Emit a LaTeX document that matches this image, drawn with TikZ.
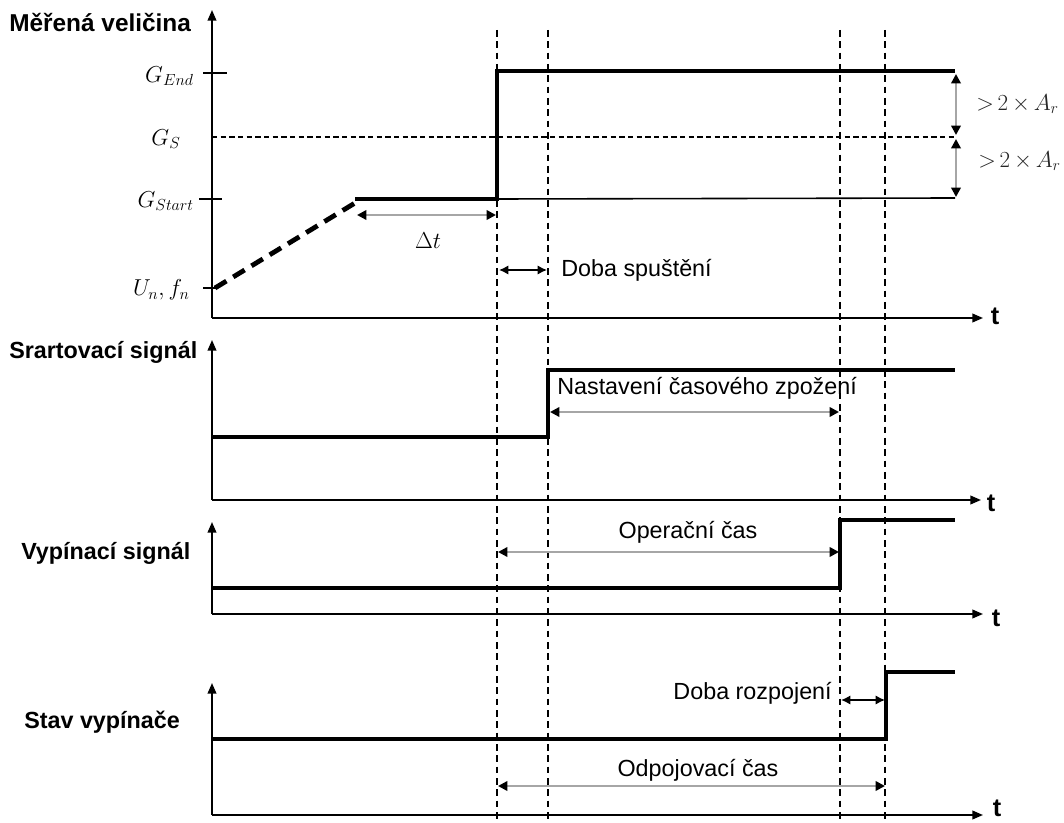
\documentclass[tikz,border=0pt]{standalone}
\usepackage{fontspec}
\setmainfont{Liberation Sans}
\usetikzlibrary{arrows.meta}
\definecolor{dimgray}{HTML}{A6A6A6}
\begin{document}
\begin{tikzpicture}[x=0.75pt,y=-0.75pt,
  axis/.style={line width=1.4pt,-{Triangle[length=8pt,width=6.5pt]}},
  sig/.style={line width=3.6pt},
  vdash/.style={line width=0.9pt,dash pattern=on 5pt off 3.5pt},
  hdash/.style={line width=0.9pt,dash pattern=on 4pt off 2.5pt},
  ramp/.style={line width=3.6pt,dash pattern=on 10pt off 6pt},
  tick/.style={line width=1.2pt},
  thin/.style={line width=1.2pt},
  gdim/.style={dimgray,line width=1.8pt,{Triangle[length=7pt,width=7pt,color=black]}-{Triangle[length=7pt,width=7pt,color=black]}},
  bdim/.style={black,line width=1.2pt,{Latex[length=7pt,width=7pt]}-{Latex[length=7pt,width=7pt]}},
  title/.style={font=\fontsize{17.5}{21}\selectfont\bfseries,inner sep=0pt},
  lbl/.style={font=\fontsize{17.5}{20}\selectfont,inner sep=0pt},
  mlbl/.style={font=\fontsize{17.5}{21}\selectfont,inner sep=0pt},
  albl/.style={font=\fontsize{17}{20}\selectfont,inner sep=0pt,text=black!85},
  tlbl/.style={font=\fontsize{19}{21}\selectfont\bfseries,inner sep=0pt}
]
\useasboundingbox (0,0) rectangle (1064,823);

% ---------- coordinates ----------
\coordinate (o1) at (212,318); \coordinate (y1) at (212,10); \coordinate (x1) at (983,318);
\coordinate (o2) at (212,500); \coordinate (y2) at (212,340); \coordinate (x2) at (981,500);
\coordinate (o3) at (212,614); \coordinate (y3) at (212,522); \coordinate (x3) at (983,614);
\coordinate (o4) at (212,815); \coordinate (y4) at (212,683); \coordinate (x4) at (983,815);

\foreach \n/\x in {a/497,b/548,c/840,d/885}{
  \coordinate (\n top) at (\x,30);
  \coordinate (\n bot) at (\x,821);
}

% ---------- vertical dashed guides ----------
\foreach \n in {a,b,c,d}{ \draw[vdash] (\n top) -- (\n bot); }

% ---------- panel 1 ----------
\draw[axis] (o1) -- (y1);
\draw[axis] (o1) -- (x1);
\node[title,font=\fontsize{18.3}{21}\selectfont\bfseries,anchor=west] (t1) at (9,23) {Měřená veličina};
\node[tlbl] (tt1) at (995,316) {t};

\coordinate (gend l) at (203,73);  \coordinate (gend r) at (227,73);
\coordinate (gs l) at (212,137);   \coordinate (gs r) at (955,137);
\coordinate (gst l) at (199,199);  \coordinate (gst r) at (222,199);
\coordinate (un l) at (203,288);   \coordinate (un r) at (216,288);
\draw[tick] (gend l) -- (gend r);
\draw[hdash] (gs l) -- (gs r);
\draw[tick] (gst l) -- (gst r);
\draw[tick] (un l) -- (un r);

\node[mlbl,anchor=east] (lgend) at (194,76) {$G_{End}$};
\node[mlbl] (lgs) at (166,139) {$G_{S}$};
\node[mlbl,anchor=east] (lgst) at (194,201) {$G_{Start}$};
\node[mlbl,anchor=east] (lun) at (190,290) {$U_n,f_n$};

\coordinate (r0) at (215,288);
\coordinate (r1) at (355,203);
\coordinate (p0) at (355,199);
\coordinate (p1) at (497,199);
\coordinate (p2) at (497,71);
\coordinate (p3) at (955,71);
\coordinate (q1) at (955,198);
\draw[ramp] (r0) -- (r1);
\draw[thin] (p1) -- (q1);
\draw[sig] (p0) -- (p1) -- (p2) -- (p3);

\coordinate (ar1) at (956,74);  \coordinate (ar2) at (956,135);
\coordinate (ar3) at (956,139); \coordinate (ar4) at (956,197);
\draw[gdim] (ar1) -- (ar2);
\draw[gdim] (ar3) -- (ar4);
\node[albl,anchor=west] (la1) at (976,104) {${>}\,2\,{\times}\,A_r$};
\node[albl,anchor=west] (la2) at (978,161) {${>}\,2\,{\times}\,A_r$};

\coordinate (dt0) at (357,215); \coordinate (dt1) at (496,215);
\draw[gdim] (dt0) -- (dt1);
\node[mlbl] (ldt) at (428,241) {$\Delta t$};

\coordinate (ds0) at (499,270); \coordinate (ds1) at (547,270);
\draw[bdim] (ds0) -- (ds1);
\node[lbl,anchor=west] (lds) at (561,270) {Doba spuštění};

% ---------- panel 2 ----------
\draw[axis] (o2) -- (y2);
\draw[axis] (o2) -- (x2);
\node[title,anchor=west] (t2) at (9,352) {Srartovací signál};
\node[tlbl] (tt2) at (991,503) {t};
\coordinate (s2a) at (212,437); \coordinate (s2b) at (548,437);
\coordinate (s2c) at (548,370); \coordinate (s2d) at (955,370);
\draw[sig] (s2a) -- (s2b) -- (s2c) -- (s2d);
\node[lbl,anchor=west] (lnz) at (557,388) {Nastavení časového zpožení};
\coordinate (nz0) at (550,412); \coordinate (nz1) at (839,412);
\draw[gdim] (nz0) -- (nz1);

% ---------- panel 3 ----------
\draw[axis] (o3) -- (y3);
\draw[axis] (o3) -- (x3);
\node[title,anchor=west] (t3) at (21,553) {Vypínací signál};
\node[tlbl] (tt3) at (996,618) {t};
\coordinate (s3a) at (212,588); \coordinate (s3b) at (840,588);
\coordinate (s3c) at (840,520); \coordinate (s3d) at (955,520);
\draw[sig] (s3a) -- (s3b) -- (s3c) -- (s3d);
\node[lbl] (lop) at (688,532) {Operační čas};
\coordinate (op0) at (498,552); \coordinate (op1) at (839,552);
\draw[gdim] (op0) -- (op1);

% ---------- panel 4 ----------
\draw[axis] (o4) -- (y4);
\draw[axis] (o4) -- (x4);
\node[title,anchor=west] (t4) at (24,722) {Stav vypínače};
\node[tlbl] (tt4) at (997,808) {t};
\coordinate (s4a) at (212,739); \coordinate (s4b) at (886,739);
\coordinate (s4c) at (886,672); \coordinate (s4d) at (955,672);
\draw[sig] (s4a) -- (s4b) -- (s4c) -- (s4d);
\node[lbl,anchor=east] (lrz) at (832,693) {Doba rozpojení};
\coordinate (rz0) at (841,700); \coordinate (rz1) at (885,700);
\draw[bdim] (rz0) -- (rz1);
\node[lbl] (lodp) at (698,770) {Odpojovací čas};
\coordinate (od0) at (498,786); \coordinate (od1) at (885,786);
\draw[gdim] (od0) -- (od1);
\end{tikzpicture}
\end{document}
